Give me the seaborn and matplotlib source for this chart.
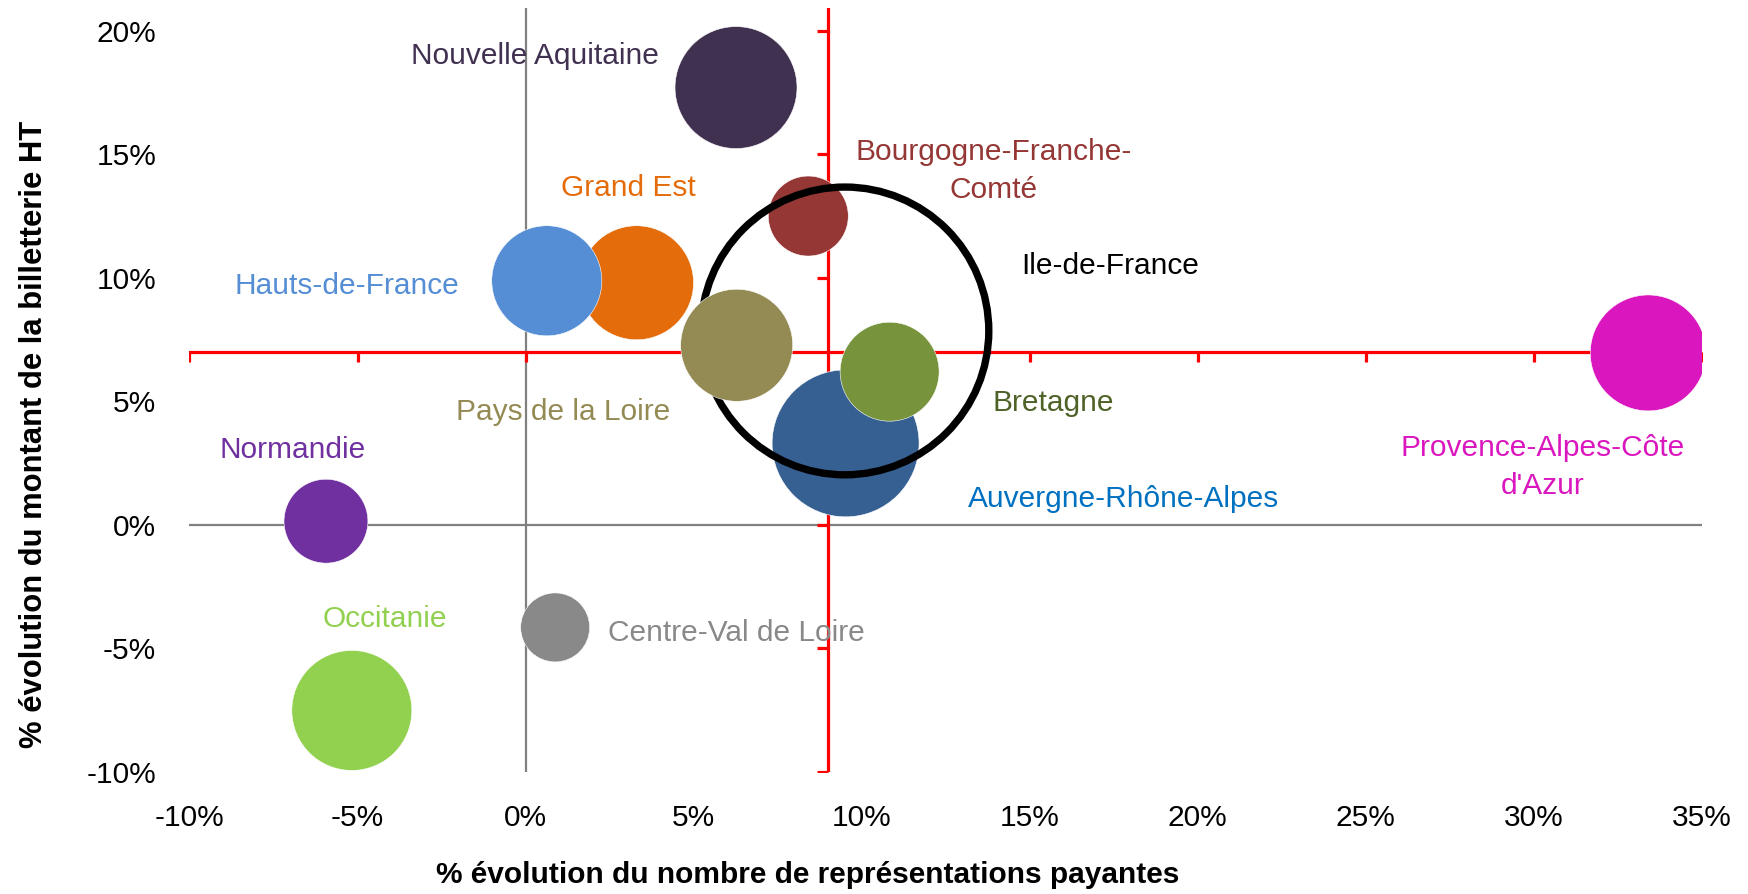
import matplotlib
matplotlib.use("Agg")
import matplotlib.pyplot as plt
from matplotlib import font_manager as fm
from matplotlib.colors import Normalize
import seaborn as sns
import pandas as pd

# ---------------- data ----------------
regions = ["Nouvelle Aquitaine", "Bourgogne-Franche-\nComté", "Grand Est", "Hauts-de-France",
           "Pays de la Loire", "Bretagne", "Auvergne-Rhône-Alpes", "Ile-de-France",
           "Provence-Alpes-Côte\nd'Azur", "Normandie", "Occitanie", "Centre-Val de Loire"]
evol_representations = [0.0626, 0.0841, 0.0330, 0.0063, 0.0628, 0.1083, 0.0952, 0.0950,
                        0.3340, -0.0594, -0.0517, 0.0088]
evol_billetterie = [0.1770, 0.1250, 0.0980, 0.0988, 0.0727, 0.0620, 0.0330, 0.0785,
                    0.0696, 0.0015, -0.0751, -0.0415]
taille = [37.2, 16.0, 32.5, 30.3, 31.4, 24.5, 54.0, 207.0, 33.6, 17.6, 36.0, 11.9]

bubble_colors = ["#403151", "#953735", "#E46C0A", "#558ED5", "#948A54", "#77933C",
                 "#376092", "#000000", "#DA17BE", "#7030A0", "#92D050", "#898989"]
label_colors = ["#403151", "#953735", "#E46C0A", "#558ED5", "#948A54", "#4F6228",
                "#0070C0", "#000000", "#DA17BE", "#7030A0", "#92D050", "#898989"]

x_ticks = [-0.10, -0.05, 0.00, 0.05, 0.10, 0.15, 0.20, 0.25, 0.30, 0.35]
x_tick_labels = ["-10%", "-5%", "0%", "5%", "10%", "15%", "20%", "25%", "30%", "35%"]
y_ticks = [-0.10, -0.05, 0.00, 0.05, 0.10, 0.15, 0.20]
y_tick_labels = ["-10%", "-5%", "0%", "5%", "10%", "15%", "20%"]

moyenne_x = 0.09   # red reference line (x)
moyenne_y = 0.07   # red reference line (y)

x_title = "% évolution du nombre de représentations payantes"
y_title = "% évolution du montant de la billetterie HT"

# label placement (data coordinates of the label centres)
label_pos = {
    "Nouvelle Aquitaine": (0.0027, 0.1899),
    "Bourgogne-Franche-\nComté": (0.1392, 0.1432),
    "Grand Est": (0.0306, 0.1362),
    "Hauts-de-France": (-0.0531, 0.0966),
    "Pays de la Loire": (0.0113, 0.0456),
    "Bretagne": (0.1570, 0.0492),
    "Auvergne-Rhône-Alpes": (0.1778, 0.0103),
    "Ile-de-France": (0.1738, 0.1047),
    "Provence-Alpes-Côte\nd'Azur": (0.3027, 0.0236),
    "Normandie": (-0.0694, 0.0302),
    "Occitanie": (-0.0418, -0.0380),
    "Centre-Val de Loire": (0.0628, -0.0439),
}

df = pd.DataFrame({"region": regions, "x": evol_representations,
                   "y": evol_billetterie, "taille": taille})

# ---------------- style ----------------
sns.set_theme(style="white")
names = {f.name for f in fm.fontManager.ttflist}
if "Liberation Sans Narrow" in names:
    narrow = ["Liberation Sans Narrow", "DejaVu Sans"]
    tick_fs, lab_fs = 25, 25.5
else:
    narrow = ["Liberation Sans", "DejaVu Sans"]
    tick_fs, lab_fs = 21.5, 21.5
plt.rcParams["font.family"] = ["Liberation Sans", "DejaVu Sans"]
plt.rcParams["axes.unicode_minus"] = False

fig = plt.figure(figsize=(17.48, 8.94), dpi=100)
ax = fig.add_axes([0.1084, 0.1365, 0.8653, 0.8540])
ax.set_xlim(-0.10, 0.35)
ax.set_ylim(-0.10, 0.209)

# axes lines
ax.axhline(0, color="#808080", lw=1.6, zorder=1)
ax.axvline(0, color="#808080", lw=1.6, zorder=1)
ax.axhline(moyenne_y, color="#FF0000", lw=2.3, zorder=1.5)
ax.axvline(moyenne_x, color="#FF0000", lw=2.3, zorder=1.5)
ax.plot([moyenne_x] * len(y_ticks), y_ticks, ls="none", marker=0, ms=8,
        mew=2.3, color="#FF0000", zorder=1.5)
ax.plot(x_ticks, [moyenne_y] * len(x_ticks), ls="none", marker=3, ms=7.5,
        mew=2.3, color="#FF0000", zorder=1.5)

# bubbles
pal = dict(zip(regions, bubble_colors))
maxv = max(taille)
size_kw = dict(size="taille", sizes=(0, 207.36 * maxv), size_norm=Normalize(0, maxv))
ring_name = "Ile-de-France"
back = ["Auvergne-Rhône-Alpes", "Bourgogne-Franche-\nComté"]
df_back = df[df.region.isin(back)]
df_ring = df[df.region == ring_name]
df_front = df[~df.region.isin(back + [ring_name])]

sns.scatterplot(data=df_back, x="x", y="y", hue="region", palette=pal, legend=False,
                edgecolor="white", linewidth=0.4, zorder=2, ax=ax, **size_kw)
sns.scatterplot(data=df_ring, x="x", y="y", legend=False, facecolor="none",
                edgecolor="black", linewidth=5.3, zorder=3, ax=ax, **size_kw)
sns.scatterplot(data=df_front, x="x", y="y", hue="region", palette=pal, legend=False,
                edgecolor="white", linewidth=0.4, zorder=4, ax=ax, **size_kw)

# labels
for name, col in zip(regions, label_colors):
    lx, ly = label_pos[name]
    ax.text(lx, ly, name, color=col, fontsize=lab_fs, family=narrow,
            ha="center", va="center", linespacing=1.45, zorder=5)

# ticks
ax.set_xticks(x_ticks)
ax.set_xticklabels(x_tick_labels, family=narrow, fontsize=tick_fs)
ax.set_yticks(y_ticks)
ax.set_yticklabels(y_tick_labels, family=narrow, fontsize=tick_fs)
ax.tick_params(axis="x", length=0, pad=23, colors="black")
ax.tick_params(axis="y", length=0, pad=24, colors="black")
for s in ax.spines.values():
    s.set_visible(False)
ax.set_xlabel("")
ax.set_ylabel("")
ax.grid(False)
ax.set_facecolor("none")

fig.text(0.4622, 0.0213, x_title, ha="center", va="center", fontsize=21.5,
         fontweight="bold", color="black")
fig.text(0.0192, 0.5145, y_title, ha="center", va="center", rotation=90,
         fontsize=22.3, fontweight="bold", color="black")

fig.savefig("out.png", dpi=100)
